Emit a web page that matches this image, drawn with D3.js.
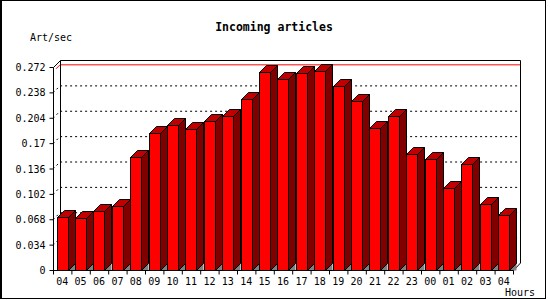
<!DOCTYPE html>
<html>
<head>
<meta charset="utf-8">
<script src="https://cdn.jsdelivr.net/npm/d3@7"></script>
<style>
  body { margin: 0; background: #fff; }
  text { font-family: "DejaVu Sans Mono", "Liberation Mono", monospace; fill: #000; }
</style>
</head>
<body>
<div id="chart"></div>
<script>
// hours of the day, oldest first
const hours = ["04", "05", "06", "07", "08", "09", "10", "11", "12", "13", "14", "15",
    "16", "17", "18", "19", "20", "21", "22", "23", "00", "01", "02", "03", "04"];

// incoming articles per second for each hour
const artPerSec = [0.0714, 0.0701, 0.0787, 0.0862, 0.151, 0.1832, 0.1939, 0.1885, 0.1993,
    0.2059, 0.2287, 0.2649, 0.2555, 0.2636, 0.2662, 0.2461, 0.226, 0.1899, 0.2059, 0.155,
    0.1487, 0.1095, 0.1416, 0.088, 0.0733];

const yTicks = [0, 0.034, 0.068, 0.102, 0.136, 0.17, 0.204, 0.238, 0.272];
const yTickLabels = ["0", "0.034", "0.068", "0.102", "0.136", "0.17", "0.204", "0.238", "0.272"];

const width = 550, height = 300;
const plot = { left: 53, right: 513, top: 67, bottom: 270 };
const depth = 7; // 3d offset of the back wall

const svg = d3.select("#chart").append("svg")
    .attr("width", width)
    .attr("height", height);

// outer frame
svg.append("rect")
    .attr("x", 0.5).attr("y", 0.5)
    .attr("width", 545).attr("height", 298)
    .attr("fill", "#fff").attr("stroke", "#000");
svg.append("line")
    .attr("x1", 1.5).attr("x2", 1.5).attr("y1", 0).attr("y2", 299)
    .attr("stroke", "#000");

const x = d3.scaleBand()
    .domain(d3.range(hours.length))
    .range([plot.left, plot.right])
    .paddingInner(0.4)
    .paddingOuter(0.2);

const xEdge = d3.scaleLinear()
    .domain([0, hours.length])
    .range([plot.left, plot.right]);

const y = d3.scaleLinear()
    .domain([0, 0.272])
    .range([plot.bottom, plot.top]);

const line = d3.line();

// dotted grid lines on the back wall
svg.append("g")
    .selectAll("path")
    .data(yTicks.filter(d => d > 0 && d < 0.272))
    .join("path")
    .attr("d", d => line([[plot.left, y(d) + 0.5], [plot.left + depth, y(d) - depth + 0.5],
        [plot.right + depth, y(d) - depth + 0.5]]))
    .attr("fill", "none")
    .attr("stroke", "#000")
    .attr("stroke-dasharray", "2,3");

// red line at the maximum value
const maxVal = d3.max(artPerSec);
svg.append("path")
    .attr("d", line([[plot.left + 3, y(maxVal) - 3 + 0.5], [plot.left + depth, y(maxVal) - depth + 0.5],
        [plot.right + depth, y(maxVal) - depth + 0.5]]))
    .attr("fill", "none")
    .attr("stroke", "#f00");

// back wall edges
svg.append("path")
    .attr("d", line([[plot.left + depth + 0.5, plot.bottom - depth], [plot.left + depth + 0.5, plot.top - depth + 0.5],
        [plot.right + depth + 0.5, plot.top - depth + 0.5], [plot.right + depth + 0.5, plot.bottom - depth],
        [plot.right + 0.5, plot.bottom + 0.5]]))
    .attr("fill", "none")
    .attr("stroke", "#000");
svg.append("path")
    .attr("d", line([[plot.left + 0.5, plot.top + 0.5], [plot.left + depth + 0.5, plot.top - depth + 0.5]]))
    .attr("fill", "none")
    .attr("stroke", "#000");

// 3d bars
const bars = svg.append("g")
    .selectAll("g")
    .data(artPerSec)
    .join("g")
    .attr("stroke", "#000")
    .attr("stroke-linejoin", "miter");

const bx = (d, i) => Math.round(x(i)) + 0.5;
const bw = Math.round(x.bandwidth());
const by = d => Math.round(y(d)) + 0.5;
const base = plot.bottom + 0.5;

bars.append("path")
    .attr("fill", "#808080")
    .attr("stroke", "none")
    .attr("d", (d, i) => line([[bx(d, i) + bw, base], [bx(d, i) + bw + depth, base - depth],
        [bx(d, i) + bw + depth, base]]) + "Z");

bars.append("path")
    .attr("fill", "#800000")
    .attr("d", (d, i) => line([[bx(d, i) + bw, by(d)], [bx(d, i) + bw + depth, by(d) - depth],
        [bx(d, i) + bw + depth, base - depth], [bx(d, i) + bw, base]]) + "Z");

bars.append("path")
    .attr("fill", "#c00000")
    .attr("d", (d, i) => line([[bx(d, i), by(d)], [bx(d, i) + depth, by(d) - depth],
        [bx(d, i) + bw + depth, by(d) - depth], [bx(d, i) + bw, by(d)]]) + "Z");

bars.append("rect")
    .attr("fill", "#f00")
    .attr("x", (d, i) => bx(d, i))
    .attr("y", d => by(d))
    .attr("width", bw)
    .attr("height", d => base - by(d));

// y axis
const yAxis = svg.append("g")
    .attr("transform", `translate(${plot.left + 0.5},0)`)
    .call(d3.axisLeft(y)
        .tickValues(yTicks)
        .tickSize(4)
        .tickPadding(4)
        .tickFormat((d, i) => yTickLabels[i]));
yAxis.select(".domain").attr("d", `M0,${plot.bottom + 0.5}V${plot.top + 0.5}`);
yAxis.selectAll(".tick line").attr("stroke", "#000");
yAxis.selectAll("text")
    .style("font-size", "10px")
    .attr("dy", "0.35em");

// x axis: ticks on bar boundaries, labels centred on bars
const xAxis = svg.append("g")
    .attr("transform", `translate(0,${plot.bottom + 0.5})`)
    .call(d3.axisBottom(xEdge)
        .tickValues(d3.range(hours.length + 1))
        .tickSize(4)
        .tickFormat(""));
xAxis.select(".domain").attr("d", `M${plot.left},0H${plot.right + 0.5}`);

svg.append("g")
    .selectAll("text")
    .data(hours)
    .join("text")
    .attr("x", (d, i) => x(i) + x.bandwidth() / 2)
    .attr("y", 285)
    .attr("text-anchor", "middle")
    .style("font-size", "10px")
    .text(d => d);

// titles
svg.append("text")
    .attr("x", 274)
    .attr("y", 31)
    .attr("text-anchor", "middle")
    .style("font-size", "11.5px")
    .style("font-weight", "bold")
    .text("Incoming articles");

svg.append("text")
    .attr("x", 30)
    .attr("y", 41)
    .style("font-size", "10px")
    .text("Art/sec");

svg.append("text")
    .attr("x", 505)
    .attr("y", 296)
    .style("font-size", "10px")
    .text("Hours");
</script>
</body>
</html>
